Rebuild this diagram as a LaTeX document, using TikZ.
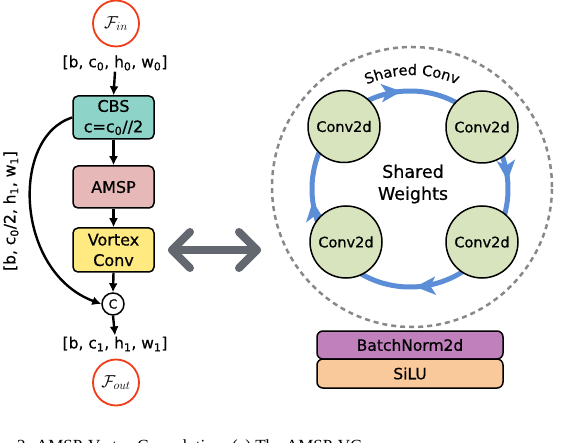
\documentclass[tikz,border=0pt]{standalone}
\usepackage{fontspec}
\setmainfont{DejaVu Sans}[FakeBold=0.6]
\newfontfamily\capfont{Liberation Serif}
\usetikzlibrary{arrows.meta,decorations.markings,decorations.text}
\definecolor{cbsc}{RGB}{141,211,199}
\definecolor{amspc}{RGB}{230,185,184}
\definecolor{vortc}{RGB}{255,234,130}
\definecolor{convc}{RGB}{216,228,189}
\definecolor{bnc}{RGB}{192,128,188}
\definecolor{siluc}{RGB}{249,200,155}
\definecolor{ringc}{RGB}{91,142,214}
\definecolor{fred}{RGB}{240,60,25}
\definecolor{darrc}{RGB}{99,104,112}
\definecolor{dashc}{RGB}{136,136,136}
\tikzset{ringtip/.tip={Stealth[length=20pt,width=18pt,inset=5pt]}}
\begin{document}
\begin{tikzpicture}[x=1pt,y=1pt,
  box/.style={draw,line width=1.5pt,rounded corners=5pt,minimum width=81pt,align=center,inner sep=0pt,font=\fontsize{16}{20.5}\selectfont},
  flow/.style={line width=2.4pt,-{Latex[length=9pt,width=9pt]}},
  fcirc/.style={circle,draw=fred,line width=1.8pt,minimum size=46pt,inner sep=0pt,font=\fontsize{18}{20}\selectfont},
  conv/.style={circle,draw,line width=1.5pt,fill=convc,minimum size=72pt,inner sep=0pt,font=\fontsize{14.5}{17}\selectfont},
  shape lbl/.style={font=\fontsize{15.5}{17}\selectfont,inner sep=1pt},
  darr/.style={draw=darrc,line width=8pt,line cap=round,line join=round},
  layer/.style={draw,line width=1.5pt,rounded corners=6pt,minimum width=186pt,inner sep=0pt,font=\fontsize{15.5}{17}\selectfont}]
\useasboundingbox (0,0) rectangle (562,442);
\clip (0,0) rectangle (562,442);
% left column
\node[fcirc] (fin) at (116,418.5) {$\mathcal{F}_{in}$};
\node[shape lbl] (lin) at (115,379) {[b, c\textsubscript{0}, h\textsubscript{0}, w\textsubscript{0}]};
\node[box,fill=cbsc,minimum height=43pt] (cbs) at (113.5,324.5) {CBS\\c=c\textsubscript{0}//2};
\node[box,fill=amspc,minimum height=42pt] (amsp) at (113.5,255) {AMSP};
\node[box,fill=vortc,minimum height=44pt] (vort) at (113.5,192) {Vortex\\Conv};
\node[circle,draw,line width=1.5pt,minimum size=22pt,inner sep=0pt,font=\fontsize{12.5}{14}\selectfont] (cc) at (113,138) {C};
\node[shape lbl] (lout) at (115,98) {[b, c\textsubscript{1}, h\textsubscript{1}, w\textsubscript{1}]};
\node[fcirc] (fout) at (116,59.5) {$\mathcal{F}_{out}$};
\node[shape lbl,rotate=90] (lside) at (11,231) {[b, c\textsubscript{0}/2, h\textsubscript{1}, w\textsubscript{1}]};
\draw[flow] (lin.south) -- (cbs.north);
\draw[flow] (cbs.south) -- (amsp.north);
\draw[flow] (amsp.south) -- (vort.north);
\draw[flow] (vort.south) -- (cc.north);
\draw[flow] (cc.south) -- (lout.north);
\draw[flow] (cbs.west) .. controls (10,305) and (15,170) .. (cc.west);
% double arrow
\coordinate (dl) at (172,192);
\coordinate (dr) at (257,192);
\draw[darr] (dl) -- (dr);
\draw[darr] ([shift={(18,18)}]dl) -- (dl) -- ([shift={(18,-18)}]dl);
\draw[darr] ([shift={(-18,18)}]dr) -- (dr) -- ([shift={(-18,-18)}]dr);
% right part
\coordinate (dc) at (412,255);
\draw[dashc,line width=2.5pt,dash pattern=on 5pt off 4pt] (dc) circle[radius=140];
\path[decorate,decoration={text along path,text align=center,text={|\fontsize{14.5}{16}\selectfont|Shared Conv}}]
  (412,255) ++(124:112) arc[start angle=124,end angle=56,radius=112];
\coordinate (rc) at (410,253);
\draw[ringc,line width=5pt,
  postaction={decorate,decoration={markings,
    mark=at position 0.014 with {\arrow{ringtip}},
    mark=at position 0.264 with {\arrow{ringtip}},
    mark=at position 0.519 with {\arrow{ringtip}},
    mark=at position 0.758 with {\arrow{ringtip}}}}]
  (rc) ++(100:98) arc[start angle=100,end angle=-260,radius=98];
\node[conv] (c1) at (344,315.5) {Conv2d};
\node[conv] (c2) at (482,315) {Conv2d};
\node[conv] (c3) at (482,200) {Conv2d};
\node[conv] (c4) at (346,200) {Conv2d};
\node[align=center,font=\fontsize{17.5}{22}\selectfont] (sw) at (413,258) {Shared\\Weights};
\node[layer,fill=bnc,minimum height=28pt] (bn) at (410,97) {BatchNorm2d};
\node[layer,fill=siluc,minimum height=29pt] (silu) at (410,68.5) {SiLU};
% caption (cut off)
\node[anchor=base west,inner sep=0pt,font=\capfont\fontsize{17}{20}\selectfont] (cap) at (17,-9) {2: AMSP-Vortex Convolution. (a) The AMSP-VC};
\end{tikzpicture}
\end{document}
